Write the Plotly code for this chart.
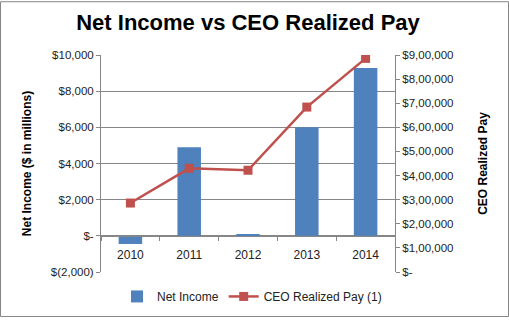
import plotly.graph_objects as go

years = ["2010", "2011", "2012", "2013", "2014"]
net_income = [-450, 4900, 60, 6000, 9280]          # $ millions
ceo_pay = [2860000, 4300000, 4220000, 6840000, 8860000]

left_ticks = [-2000, 0, 2000, 4000, 6000, 8000, 10000]
left_labels = ["$(2,000)", "$-", "$2,000", "$4,000", "$6,000", "$8,000", "$10,000"]
right_ticks = [0, 1000000, 2000000, 3000000, 4000000, 5000000, 6000000, 7000000, 8000000, 9000000]
right_labels = ["$-", "$1,00,000", "$2,00,000", "$3,00,000", "$4,00,000", "$5,00,000",
                "$6,00,000", "$7,00,000", "$8,00,000", "$9,00,000"]

W, H = 509, 323
ML, MR, MT, MB = 101, 114, 55, 46
PW, PH = W - ML - MR, H - MT - MB

FONT = "Arial, Liberation Sans, sans-serif"
GRID = "#868686"

fig = go.Figure()
fig.add_trace(go.Bar(x=years, y=net_income, name="Net Income",
                     marker=dict(color="#4F81BD", line=dict(width=0)), yaxis="y"))
fig.add_trace(go.Scatter(x=years, y=ceo_pay, name="CEO Realized Pay (1)", mode="lines+markers",
                         line=dict(color="#C0504D", width=2.5),
                         marker=dict(symbol="square", size=9, color="#C0504D"), yaxis="y2"))

fig.update_layout(
    width=W, height=H,
    margin=dict(l=ML, r=MR, t=MT, b=MB, pad=0),
    paper_bgcolor="white", plot_bgcolor="white",
    font=dict(family=FONT, size=11, color="#222222"),
    bargap=0.6,
    showlegend=True,
    title=dict(text="<b>Net Income vs CEO Realized Pay</b>", x=0.5, xanchor="center",
               y=1 - 22 / H, yanchor="middle", xref="paper",
               font=dict(family=FONT, size=22, color="black")),
    xaxis=dict(type="category", anchor="free", position=2000 / 12000,
               showline=True, linecolor=GRID, linewidth=1,
               ticks="outside", tickson="boundaries", ticklen=4, tickcolor=GRID,
               ticklabelstandoff=8,
               showgrid=False, tickfont=dict(size=12, color="#222222"), zeroline=False),
    yaxis=dict(range=[-2000, 10000], tickvals=left_ticks, ticktext=left_labels,
               showgrid=True, gridcolor=GRID, gridwidth=1, zeroline=False,
               showline=True, linecolor=GRID, linewidth=1,
               ticks="outside", ticklen=4, tickcolor=GRID,
               tickfont=dict(size=11.5),
               title=dict(text="<b>Net Income ($ in millions)</b>", standoff=16,
                          font=dict(size=12, color="black"))),
    yaxis2=dict(range=[0, 9000000], tickvals=right_ticks, ticktext=right_labels,
                overlaying="y", side="right", showgrid=False, zeroline=False,
                showline=True, linecolor=GRID, linewidth=1,
                ticks="outside", ticklen=4, tickcolor=GRID,
                tickfont=dict(size=11.5),
                title=dict(text="<b>CEO Realized Pay</b>", standoff=26,
                           font=dict(size=12, color="black"))),
    legend=dict(orientation="h", x=(252 - ML) / PW, xanchor="center",
                y=-25 / PH, yanchor="middle", font=dict(size=12, color="#222222"),
                bgcolor="rgba(0,0,0,0)", itemwidth=30),
    shapes=[dict(type="rect", xref="paper", yref="paper",
                 x0=-(ML - 0.5) / PW, x1=1 + (MR - 0.5) / PW,
                 y0=-(MB - 0.5) / PH, y1=1 + (MT - 0.5) / PH,
                 line=dict(color=GRID, width=1), layer="below")],
)

fig.write_html("out.html")
